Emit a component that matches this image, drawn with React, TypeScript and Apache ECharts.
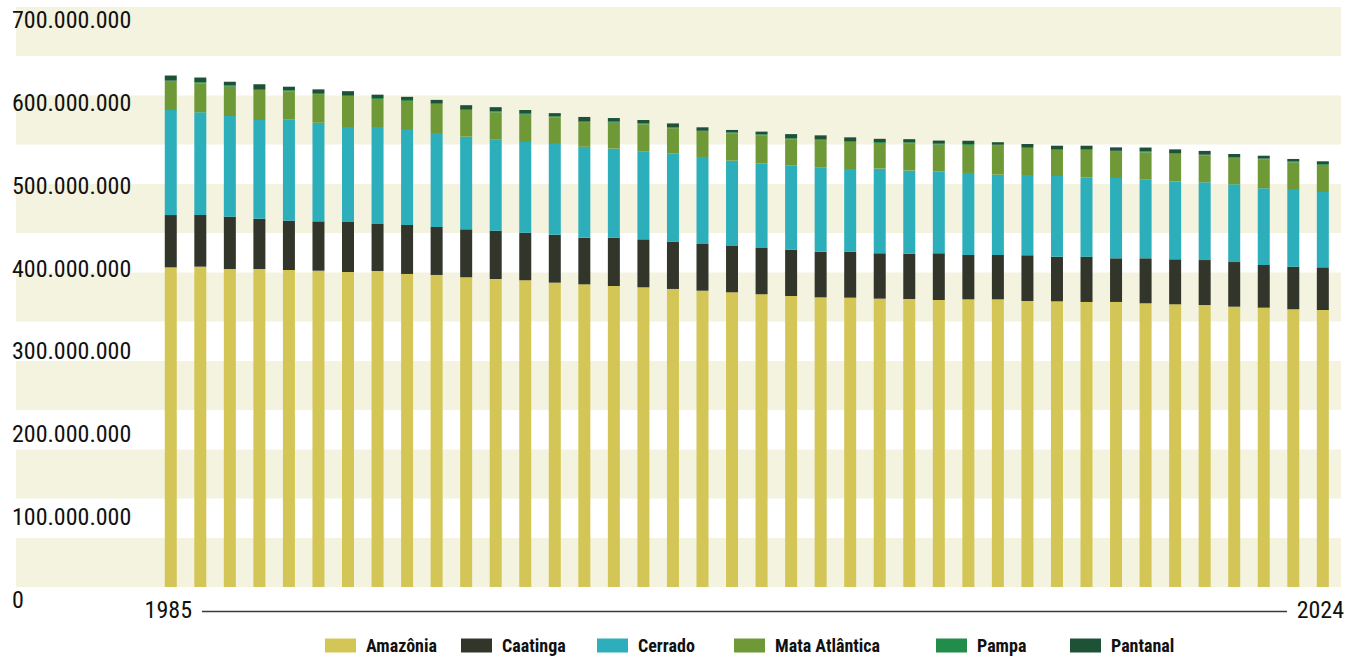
import React, { useEffect, useRef } from "react";
import * as echarts from "echarts";

const years = [
  "1985", "1986", "1987", "1988", "1989", "1990", "1991", "1992", "1993", "1994",
  "1995", "1996", "1997", "1998", "1999", "2000", "2001", "2002", "2003", "2004",
  "2005", "2006", "2007", "2008", "2009", "2010", "2011", "2012", "2013", "2014",
  "2015", "2016", "2017", "2018", "2019", "2020", "2021", "2022", "2023", "2024",
];

// values in millions of hectares
const amazonia = [
  385.8, 386.6, 383.8, 383.8, 382.6, 381.7, 380.2, 381.4, 377.8, 376.6,
  373.8, 371.7, 370.2, 367.3, 365.3, 363.3, 361.7, 359.7, 357.6, 355.7,
  353.3, 351.2, 349.6, 349.2, 348.0, 347.6, 346.4, 347.2, 347.2, 345.2,
  344.8, 344.0, 344.0, 342.4, 341.2, 340.3, 338.3, 337.1, 335.2, 334.3,
];
const caatinga = [
  63.1, 62.4, 63.1, 60.7, 59.5, 59.6, 60.3, 56.7, 59.1, 57.9,
  57.9, 58.3, 57.4, 57.9, 56.2, 58.3, 57.9, 57.1, 56.4, 55.9,
  55.9, 55.9, 55.0, 55.5, 54.8, 54.7, 56.4, 53.5, 53.5, 55.2,
  53.8, 54.7, 52.7, 54.3, 54.3, 54.3, 53.9, 51.5, 51.4, 51.5,
];
const cerrado = [
  126.7, 123.9, 121.5, 119.1, 122.4, 119.0, 114.7, 117.1, 114.7, 113.4,
  111.8, 110.3, 109.5, 109.5, 109.8, 107.4, 105.7, 106.7, 105.0, 102.9,
  101.7, 101.9, 101.4, 99.8, 102.1, 100.2, 99.0, 99.0, 96.9, 96.9,
  97.4, 95.3, 96.9, 95.3, 93.7, 93.8, 93.8, 92.6, 92.6, 90.9,
];
const mataAtlantica = [
  34.2, 35.0, 35.4, 36.2, 33.8, 34.6, 37.4, 33.8, 35.0, 35.0,
  32.2, 32.6, 32.9, 32.2, 29.8, 31.4, 33.1, 30.2, 30.5, 33.1,
  34.3, 31.4, 33.4, 32.6, 31.0, 33.1, 32.1, 33.8, 35.0, 32.6,
  31.4, 33.4, 31.7, 32.6, 33.4, 32.3, 31.7, 34.8, 33.2, 32.6,
];
const pampa = [
  1.3, 1.3, 1.3, 1.3, 1.3, 1.3, 1.2, 1.2, 1.2, 1.2,
  1.2, 1.2, 1.2, 1.2, 1.2, 1.2, 1.2, 1.2, 1.1, 1.1,
  1.1, 1.1, 1.1, 1.1, 1.1, 1.1, 1.1, 1.1, 1.1, 1.1,
  1.1, 1.1, 1.1, 1.0, 1.0, 1.0, 1.0, 1.0, 1.0, 1.0,
];
const pantanal = [
  6.2, 5.7, 4.7, 5.7, 4.2, 4.4, 4.6, 4.0, 3.8, 3.8,
  4.6, 5.0, 4.5, 3.8, 5.0, 4.4, 4.0, 4.6, 4.2, 2.9,
  3.3, 5.1, 4.6, 4.5, 3.9, 3.8, 3.8, 4.0, 3.1, 3.8,
  4.1, 4.1, 4.2, 4.8, 4.6, 4.6, 3.9, 3.5, 3.2, 3.5,
];

const seriesDefs = [
  { name: "Amazônia", data: amazonia, color: "#d3c657", legendLeft: 325 },
  { name: "Caatinga", data: caatinga, color: "#32362a", legendLeft: 461 },
  { name: "Cerrado", data: cerrado, color: "#2cafba", legendLeft: 597 },
  { name: "Mata Atlântica", data: mataAtlantica, color: "#6e9936", legendLeft: 734 },
  { name: "Pampa", data: pampa, color: "#228c4a", legendLeft: 936 },
  { name: "Pantanal", data: pantanal, color: "#1e5236", legendLeft: 1070 },
];

const bandTops = [7, 95.5, 184, 272.5, 361, 449.5, 538];

const FONT = "'Liberation Sans Narrow', 'Roboto Condensed', 'DejaVu Sans Condensed', Roboto, sans-serif";

export default function App() {
  const ref = useRef<HTMLDivElement>(null);
  useEffect(() => {
    document.body.style.margin = "0";
    const chart = echarts.init(ref.current!, null, { renderer: "svg" });
    const option: any = {
      animation: false,
      backgroundColor: "#ffffff",
      grid: { left: 156, right: 24.4, top: 7, bottom: 73, containLabel: false },
      graphic: [
        ...bandTops.map((t) => ({
          type: "rect",
          z: -10,
          silent: true,
          shape: { x: 16, y: t, width: 1325, height: 49 },
          style: { fill: "#f4f3e0" },
        })),
        {
          type: "line",
          silent: true,
          shape: { x1: 202, y1: 611.5, x2: 1287, y2: 611.5 },
          style: { stroke: "#3a3a3a", lineWidth: 1.6 },
        },
      ],
      legend: seriesDefs.map((s) => ({
        data: [s.name],
        left: s.legendLeft,
        top: 635.5,
        padding: 0,
        itemWidth: 31,
        itemHeight: 14,
        icon: "rect",
        selectedMode: false,
        textStyle: {
          fontFamily: FONT,
          fontWeight: "bold",
          fontSize: 18,
          lineHeight: 20,
          color: "#111111",
          padding: [0, 0, 0, 5],
        },
      })),
      xAxis: {
        type: "category",
        data: years,
        axisLine: { show: false },
        axisTick: { show: false },
        splitLine: { show: false },
        axisLabel: {
          interval: (i: number) => i === 0 || i === years.length - 1,
          margin: 11,
          padding: [0, 5, 0, 0],
          fontSize: 24,
          fontFamily: FONT,
          color: "#111111",
        },
      },
      yAxis: {
        type: "value",
        min: 0,
        max: 700,
        interval: 100,
        axisLine: { show: false },
        axisTick: { show: false },
        splitLine: { show: false },
        axisLabel: {
          align: "left",
          verticalAlign: "top",
          margin: 144,
          padding: [1, 0, 0, 0],
          fontSize: 24,
          fontFamily: FONT,
          color: "#111111",
          formatter: (v: number) => (v === 0 ? "0" : `${v}.000.000`),
        },
      },
      series: seriesDefs.map((s) => ({
        name: s.name,
        type: "bar",
        stack: "total",
        barWidth: 12,
        data: s.data,
        itemStyle: { color: s.color },
      })),
    };
    chart.setOption(option);
    return () => chart.dispose();
  }, []);
  return <div ref={ref} style={{ width: 1362, height: 660 }} />;
}
